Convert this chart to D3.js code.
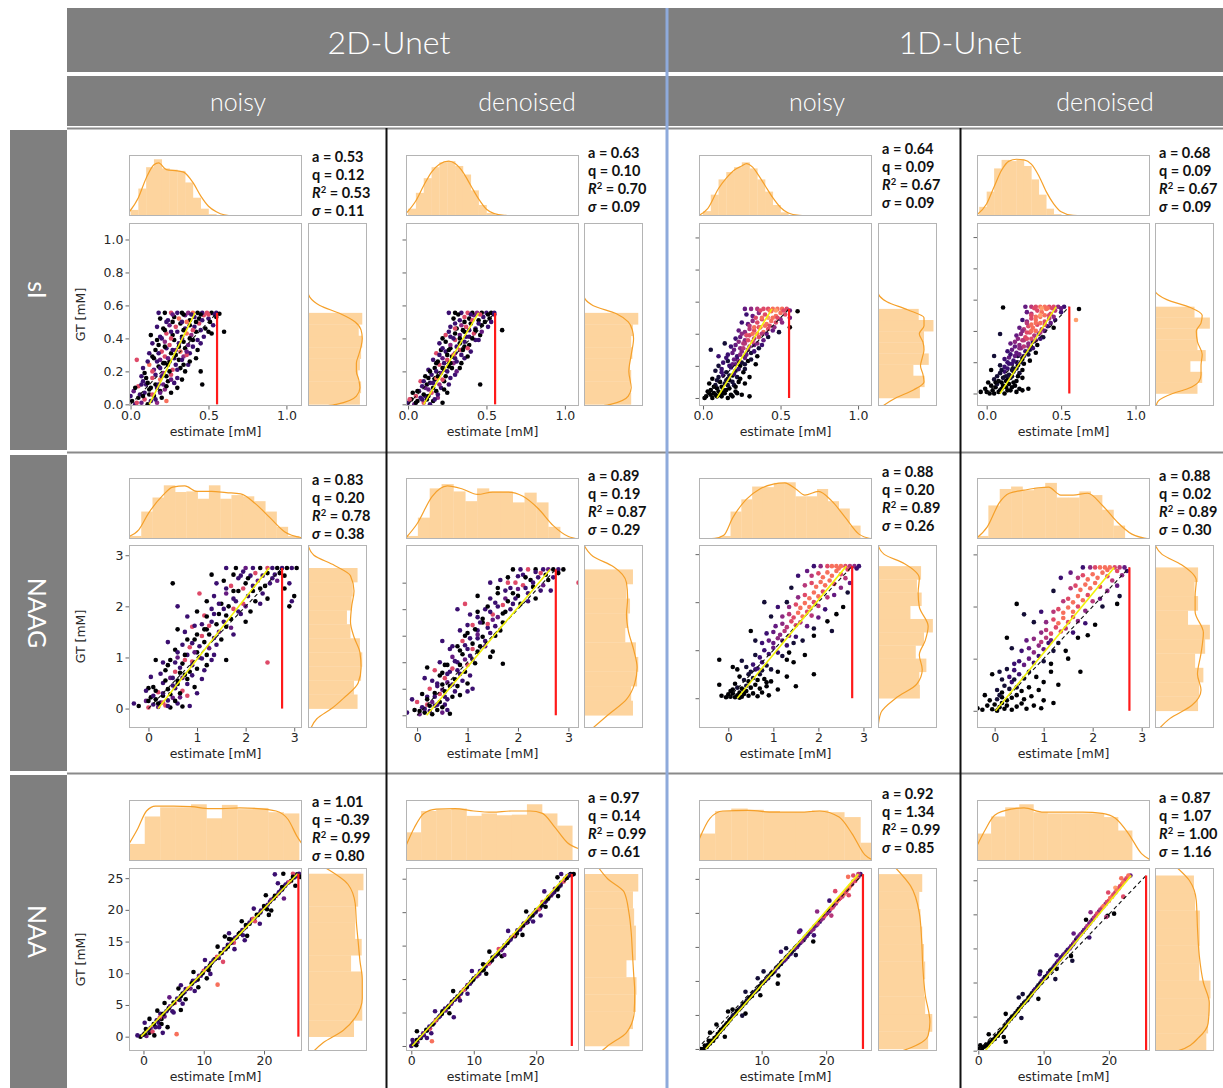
<!DOCTYPE html>
<html><head><meta charset="utf-8">
<script src="https://cdn.jsdelivr.net/npm/d3@7"></script>
<style>body{margin:0;background:#fff}svg{display:block}</style>
</head><body>
<svg id="fig" width="1223" height="1088"></svg>
<script>
// ---------- labels ----------
const metabolites = ["sI", "NAAG", "NAA"];
const networks = ["2D-Unet", "1D-Unet"];
const inputs = ["noisy", "denoised", "noisy", "denoised"];

// ---------- regression statistics (rows: sI, NAAG, NAA; cols: 2D noisy, 2D denoised, 1D noisy, 1D denoised) ----------
const statA = [[0.53, 0.63, 0.64, 0.68], [0.83, 0.89, 0.88, 0.88], [1.01, 0.97, 0.92, 0.87]];
const statQ = [[0.12, 0.10, 0.09, 0.09], [0.20, 0.19, 0.20, 0.02], [-0.39, 0.14, 1.34, 1.07]];
const statR2 = [[0.53, 0.70, 0.67, 0.67], [0.78, 0.87, 0.89, 0.89], [0.99, 0.99, 0.99, 1.00]];
const statSigma = [[0.11, 0.09, 0.09, 0.09], [0.38, 0.29, 0.26, 0.30], [0.80, 0.61, 0.85, 1.16]];
const gtMax = [0.555, 2.75, 25.7];

// ---------- axis domains and ticks ----------
const xDomains = [
  [[-0.01, 1.1], [-0.013, 1.09], [-0.026, 1.09], [-0.065, 1.097]],
  [[-0.4, 3.16], [-0.22, 3.21], [-0.65, 3.19], [-0.36, 3.17]],
  [[-2.4, 26.3], [-0.85, 26.85], [0.3, 27.1], [-0.2, 26.3]]];
const yDomains = [
  [[-0.01, 1.1], [-0.01, 1.1], [-0.05, 1.09], [-0.08, 1.09]],
  [[-0.38, 3.2], [-0.24, 3.21], [-0.62, 3.19], [-0.33, 3.18]],
  [[-2.26, 26.6], [-0.75, 26.6], [-0.3, 26.6], [-0.05, 26.8]]];
const xTicks = [[0, 0.5, 1], [0, 1, 2, 3], [0, 10, 20]];
const yTicks = [
  [[0, 0.2, 0.4, 0.6, 0.8, 1], [0, 0.2, 0.4, 0.6, 0.8, 1], [0, 0.2, 0.4, 0.6, 0.8, 1], [0, 0.2, 0.4, 0.6, 0.8, 1]],
  [[0, 1, 2, 3], [0, 0.5, 1, 1.5, 2, 2.5], [0, 1, 2, 3], [0, 1, 2, 3]],
  [[0, 5, 10, 15, 20, 25], [0, 5, 10, 15, 20, 25], [0, 5, 10, 15, 20, 25], [0, 5, 10, 15, 20, 25]]];

// ---------- marginal histograms of the estimate (top) ----------
const topStart = [[0, 0, 0, -0.05], [-0.38, -0.22, -0.19, -0.36], [-2.35, -0.85, 0.3, -0.2]];
const topWidth = [[0.05, 0.05, 0.05, 0.05], [0.232, 0.235, 0.24, 0.232], [2.56, 2.42, 2.5, 2.16]];
const topHeights = [
  [[0.1, 0.45, 0.8, 0.93, 0.78, 0.76, 0.74, 0.55, 0.3, 0.12, 0.03],
   [0.12, 0.38, 0.62, 0.8, 0.88, 0.9, 0.82, 0.68, 0.42, 0.18, 0.05, 0.01],
   [0.08, 0.35, 0.6, 0.72, 0.8, 0.88, 0.78, 0.6, 0.4, 0.18, 0.06, 0.01],
   [0.15, 0.4, 0.78, 0.92, 0.9, 0.92, 0.82, 0.6, 0.35, 0.12, 0.03, 0.01]],
  [[0.05, 0.45, 0.68, 0.88, 0.77, 0.78, 0.66, 0.88, 0.66, 0.72, 0.7, 0.62, 0.45, 0.2, 0.05],
   [0.05, 0.35, 0.83, 0.9, 0.78, 0.62, 0.83, 0.78, 0.78, 0.6, 0.76, 0.6, 0.2, 0.02],
   [0.05, 0.45, 0.65, 0.86, 0.85, 0.92, 0.93, 0.7, 0.7, 0.82, 0.62, 0.5, 0.22, 0.02],
   [0.05, 0.55, 0.82, 0.86, 0.8, 0.84, 0.92, 0.68, 0.68, 0.78, 0.72, 0.48, 0.22, 0.01]],
  [[0.28, 0.73, 0.88, 0.88, 0.93, 0.7, 0.92, 0.85, 0.87, 0.8, 0.78],
   [0.47, 0.82, 0.84, 0.86, 0.74, 0.78, 0.75, 0.76, 0.93, 0.78, 0.58],
   [0.45, 0.82, 0.86, 0.84, 0.82, 0.8, 0.8, 0.83, 0.8, 0.72, 0.3],
   [0.45, 0.73, 0.88, 0.93, 0.8, 0.78, 0.78, 0.78, 0.78, 0.72, 0.5]]];
// density curves over the estimate: x, height pairs
const topKde = [
  [[-0.01, 0.06, 0.05, 0.3, 0.1, 0.62, 0.15, 0.84, 0.18, 0.87, 0.23, 0.76, 0.3, 0.74, 0.34, 0.72, 0.4, 0.55, 0.45, 0.33, 0.5, 0.16, 0.55, 0.07, 0.6, 0.02, 0.68, 0, 1.1, 0],
   [-0.013, 0.04, 0.05, 0.25, 0.1, 0.5, 0.15, 0.72, 0.2, 0.85, 0.26, 0.9, 0.3, 0.86, 0.35, 0.72, 0.4, 0.5, 0.45, 0.28, 0.5, 0.11, 0.55, 0.04, 0.62, 0.01, 0.7, 0, 1.09, 0],
   [-0.026, 0.01, 0.03, 0.12, 0.1, 0.45, 0.15, 0.62, 0.2, 0.75, 0.25, 0.82, 0.28, 0.86, 0.32, 0.8, 0.35, 0.7, 0.4, 0.5, 0.45, 0.3, 0.5, 0.14, 0.55, 0.05, 0.62, 0.01, 0.7, 0, 1.09, 0],
   [-0.065, 0.02, 0, 0.2, 0.05, 0.48, 0.1, 0.75, 0.15, 0.9, 0.2, 0.93, 0.25, 0.92, 0.3, 0.85, 0.35, 0.66, 0.4, 0.4, 0.45, 0.2, 0.5, 0.07, 0.58, 0.01, 0.7, 0, 1.097, 0]],
  [[-0.4, 0.04, -0.2, 0.15, 0, 0.42, 0.3, 0.72, 0.5, 0.85, 0.75, 0.87, 1.0, 0.78, 1.3, 0.78, 1.6, 0.76, 1.9, 0.74, 2.2, 0.58, 2.5, 0.35, 2.8, 0.12, 3.16, 0.02],
   [-0.22, 0.02, 0, 0.25, 0.3, 0.7, 0.6, 0.87, 0.9, 0.82, 1.2, 0.73, 1.5, 0.77, 1.8, 0.77, 2.1, 0.7, 2.4, 0.5, 2.7, 0.22, 3.0, 0.04, 3.21, 0],
   [-0.65, 0, -0.3, 0.01, -0.1, 0.06, 0.1, 0.35, 0.4, 0.65, 0.7, 0.82, 1.0, 0.9, 1.25, 0.92, 1.5, 0.82, 1.7, 0.72, 2.0, 0.78, 2.3, 0.62, 2.6, 0.35, 2.9, 0.08, 3.19, 0],
   [-0.36, 0.02, -0.15, 0.2, 0.1, 0.6, 0.3, 0.75, 0.6, 0.8, 0.9, 0.84, 1.1, 0.85, 1.35, 0.72, 1.6, 0.72, 1.9, 0.75, 2.2, 0.55, 2.5, 0.28, 2.8, 0.08, 3.17, 0]],
  [[-2.4, 0.28, -1, 0.52, 0.5, 0.82, 2, 0.9, 5, 0.9, 8, 0.89, 11, 0.86, 13, 0.86, 16, 0.87, 19, 0.86, 22, 0.82, 24, 0.68, 25.5, 0.4, 26.3, 0.28],
   [-0.85, 0.25, 0.5, 0.55, 2, 0.78, 4, 0.85, 7, 0.86, 10, 0.82, 13, 0.8, 16, 0.82, 19, 0.82, 21, 0.78, 23, 0.55, 25, 0.3, 26.85, 0.2],
   [0.3, 0.35, 2, 0.7, 4, 0.82, 8, 0.83, 12, 0.8, 16, 0.8, 19, 0.82, 22, 0.72, 24, 0.45, 26, 0.1, 27.1, 0.02],
   [-0.2, 0.25, 1, 0.5, 2.5, 0.75, 5, 0.85, 7, 0.87, 10, 0.8, 13, 0.8, 16, 0.8, 19, 0.78, 21, 0.7, 23, 0.45, 25, 0.12, 26.3, 0.02]]];

// ---------- marginal histograms of the ground truth (right), bins span [0, gtMax] ----------
const sideWidths = [
  [[0.88, 0.9, 0.85, 0.88, 0.9, 0.92, 0.86, 0.92],
   [0.8, 0.78, 0.8, 0.78, 0.82, 0.8, 0.83, 0.92],
   [0.71, 0.79, 0.6, 0.86, 0.78, 0.78, 0.94, 0.69],
   [0.72, 0.8, 0.6, 0.86, 0.72, 0.72, 0.93, 0.67]],
  [[0.84, 0.78, 0.9, 0.92, 0.88, 0.72, 0.66, 0.74, 0.76, 0.84],
   [0.83, 0.8, 0.9, 0.92, 0.88, 0.7, 0.75, 0.78, 0.72, 0.83],
   [0.71, 0.7, 0.82, 0.64, 0.78, 0.93, 0.55, 0.74, 0.66, 0.73],
   [0.73, 0.75, 0.82, 0.68, 0.85, 0.93, 0.56, 0.73, 0.67, 0.73]],
  [[0.78, 0.92, 0.92, 0.92, 0.73, 0.91, 0.8, 0.8, 0.85, 0.94],
   [0.77, 0.83, 0.88, 0.89, 0.72, 0.88, 0.88, 0.85, 0.83, 0.92],
   [0.85, 0.92, 0.8, 0.78, 0.8, 0.78, 0.75, 0.72, 0.7, 0.75],
   [0.87, 0.9, 0.92, 0.94, 0.75, 0.75, 0.76, 0.76, 0.68, 0.66]]];
// density curves over the ground truth: y, width pairs
const sideKde = [
  [[-0.01, 0.3, 0, 0.48, 0.05, 0.82, 0.1, 0.88, 0.15, 0.86, 0.2, 0.82, 0.25, 0.82, 0.3, 0.86, 0.35, 0.9, 0.4, 0.92, 0.45, 0.9, 0.5, 0.8, 0.55, 0.55, 0.6, 0.2, 0.65, 0.03, 0.68, 0, 1.1, 0],
   [-0.01, 0.3, 0, 0.45, 0.05, 0.75, 0.1, 0.8, 0.2, 0.76, 0.3, 0.8, 0.4, 0.84, 0.45, 0.82, 0.5, 0.75, 0.55, 0.55, 0.6, 0.15, 0.66, 0, 1.1, 0],
   [-0.05, 0.08, 0, 0.3, 0.05, 0.6, 0.1, 0.78, 0.15, 0.76, 0.2, 0.72, 0.25, 0.75, 0.3, 0.78, 0.35, 0.76, 0.4, 0.7, 0.45, 0.78, 0.5, 0.78, 0.55, 0.5, 0.6, 0.15, 0.66, 0, 1.09, 0],
   [-0.08, 0.02, -0.05, 0.05, 0, 0.3, 0.03, 0.55, 0.08, 0.75, 0.12, 0.78, 0.18, 0.78, 0.25, 0.8, 0.33, 0.72, 0.4, 0.7, 0.45, 0.78, 0.5, 0.8, 0.55, 0.6, 0.6, 0.2, 0.66, 0, 1.09, 0]],
  [[-0.38, 0.05, -0.2, 0.15, 0, 0.4, 0.2, 0.6, 0.5, 0.85, 0.8, 0.9, 1.1, 0.88, 1.4, 0.78, 1.7, 0.72, 2.0, 0.74, 2.3, 0.78, 2.6, 0.72, 2.8, 0.45, 3.0, 0.1, 3.2, 0],
   [-0.24, 0.15, 0, 0.4, 0.3, 0.72, 0.6, 0.86, 0.9, 0.9, 1.2, 0.85, 1.6, 0.75, 1.9, 0.72, 2.2, 0.74, 2.5, 0.72, 2.8, 0.5, 3.0, 0.15, 3.21, 0],
   [-0.62, 0, -0.3, 0.05, 0, 0.3, 0.3, 0.66, 0.6, 0.75, 0.9, 0.7, 1.2, 0.8, 1.5, 0.85, 1.9, 0.7, 2.2, 0.68, 2.5, 0.7, 2.8, 0.45, 3.0, 0.1, 3.19, 0],
   [-0.33, 0.08, -0.15, 0.25, 0.1, 0.62, 0.4, 0.78, 0.7, 0.72, 1.1, 0.78, 1.5, 0.82, 1.9, 0.68, 2.2, 0.68, 2.5, 0.7, 2.8, 0.45, 3.0, 0.12, 3.18, 0]],
  [[-2.26, 0.1, -1, 0.25, 1, 0.6, 3, 0.8, 6, 0.92, 9, 0.92, 12, 0.88, 15, 0.85, 18, 0.82, 21, 0.8, 24, 0.68, 26.6, 0.3],
   [-0.75, 0.3, 0, 0.4, 2, 0.72, 5, 0.85, 8, 0.86, 11, 0.84, 14, 0.82, 17, 0.8, 20, 0.76, 23, 0.68, 25, 0.4, 26.6, 0.25],
   [-0.3, 0.4, 0, 0.5, 2, 0.85, 4, 0.88, 8, 0.8, 12, 0.76, 16, 0.74, 20, 0.7, 24, 0.55, 26.6, 0.3],
   [-0.05, 0.38, 0, 0.4, 2, 0.75, 4, 0.9, 7, 0.92, 10, 0.82, 14, 0.75, 18, 0.72, 22, 0.7, 25, 0.58, 26.8, 0.38]]];

// ---------- scatter samples: estimate, ground truth, colour level (0-9) ----------
const sI_2D_noisy = [
.01,.02,0, .03,0,2, .05,.04,0, .07,.01,3, .09,.03,6, .11,0,0, .13,.02,2, .15,.05,0, .17,.01,4, .2,.04,0, .23,.02,7, 0,.05,2, .06,.06,2, .12,.06,0,
.02,.08,3, .09,.07,2, .12,.09,0, .14,.06,6, .17,.1,2, .19,.08,0, .22,.09,4, .26,.07,0, .3,.1,0, .05,.11,6, .1,.12,2,
.08,.14,2, .11,.13,0, .16,.12,0, .19,.15,7, .21,.12,3, .24,.14,0, .28,.13,2, .33,.15,0, .07,.17,2, .14,.16,6, .16,.18,2,
.21,.19,4, .23,.17,0, .26,.18,6, .3,.16,2, .35,.2,0, .45,.2,0, .08,.22,2, .12,.24,7, .15,.21,3, .18,.23,0, .24,.24,0, .27,.21,6, .29,.24,2, .32,.22,0, .37,.24,2,
.04,.27,6, .11,.26,2, .15,.28,0, .19,.27,3, .22,.29,6, .25,.26,0, .28,.28,2, .31,.27,0, .34,.29,4, .38,.26,0, .42,.28,0,
.12,.31,2, .16,.33,0, .2,.32,6, .23,.34,2, .26,.31,0, .29,.33,3, .32,.32,7, .35,.34,0, .38,.31,2, .43,.33,0,
.14,.37,2, .18,.36,0, .22,.38,4, .25,.36,6, .28,.39,0, .31,.37,2, .34,.38,0, .37,.36,3, .4,.39,0, .45,.37,2,
.13,.42,0, .19,.41,2, .23,.43,6, .27,.42,0, .3,.44,2, .33,.41,0, .36,.43,7, .39,.42,4, .42,.44,0, .47,.41,2, .52,.43,0, .46,.12,0,
.17,.47,2, .21,.46,0, .25,.48,3, .29,.47,6, .32,.49,0, .35,.46,2, .38,.48,0, .41,.47,2, .44,.49,6, .48,.46,0, .53,.48,2,
.19,.52,0, .24,.51,2, .28,.53,0, .31,.52,7, .35,.54,3, .38,.51,0, .41,.53,2, .44,.52,0, .47,.54,6, .5,.52,2, .55,.53,0, .6,.44,0,
.18,.555,2, .22,.555,0, .26,.555,6, .3,.555,2, .33,.555,0, .37,.555,4, .4,.555,7, .43,.555,0, .46,.555,2, .49,.555,6, .52,.555,0, .55,.555,2,
.04,.01,6, .08,.05,0, .16,.03,2, .19,.07,3, .03,.1,0, .07,.12,2, .13,.1,0, .18,.12,2, .23,.11,0, .26,.15,3, .1,.16,0, .2,.17,2, .25,.2,0, .14,.2,6, .09,.19,0,
.19,.22,2, .22,.25,0, .3,.21,2, .34,.24,0, .17,.26,2, .21,.25,0, .24,.28,3, .29,.3,0, .33,.27,2, .36,.3,6, .14,.29,0, .18,.31,2, .22,.35,0, .27,.33,2, .31,.35,0,
.36,.32,3, .4,.35,2, .17,.39,0, .2,.4,2, .26,.4,6, .33,.4,2, .38,.4,0, .43,.39,2, .22,.45,0, .26,.44,2, .34,.45,0, .4,.45,6, .45,.45,2, .5,.44,0, .23,.5,2,
.27,.5,0, .33,.5,2, .36,.5,7, .42,.5,0, .46,.51,2, .51,.5,0, .27,.545,3, .34,.545,0, .39,.545,2, .45,.545,0, .5,.545,6, .54,.545,2, .57,.55,0];
const sI_2D_denoised = [
0,.01,2, .02,.03,0, .04,0,3, .06,.02,0, .08,.04,2, .1,.01,6, .12,.03,0, .14,0,2, .16,.02,0, .19,.04,4, .22,.01,0, .05,.05,6, .11,.05,2,
.03,.07,0, .07,.08,2, .1,.06,0, .13,.09,3, .15,.07,6, .18,.08,0, .21,.1,2, .25,.07,0, .09,.11,2, .12,.12,0,
.08,.14,6, .14,.13,2, .17,.15,0, .2,.12,4, .23,.14,0, .27,.16,2, .11,.17,0, .15,.18,2, .18,.16,7, .21,.19,3, .24,.17,0, .3,.18,2, .46,.12,0,
.13,.21,2, .17,.22,0, .2,.24,6, .23,.21,2, .26,.23,0, .29,.25,4, .33,.22,0, .16,.27,2, .19,.26,0, .22,.28,3, .25,.27,6, .28,.29,0, .31,.26,2, .36,.28,2,
.18,.31,6, .21,.33,0, .24,.32,2, .27,.34,0, .3,.31,3, .33,.33,6, .36,.35,0, .4,.32,2, .2,.37,2, .24,.38,0, .27,.36,4, .3,.39,6, .33,.37,0, .36,.38,2, .39,.36,0, .43,.39,2,
.24,.42,6, .27,.41,2, .3,.43,0, .33,.42,3, .36,.44,0, .39,.41,2, .42,.43,6, .46,.42,0, .27,.47,2, .31,.46,0, .34,.48,4, .37,.47,6, .4,.49,0, .43,.46,2, .47,.48,0, .51,.47,2,
.29,.52,0, .33,.51,2, .36,.53,6, .39,.52,0, .42,.54,3, .45,.51,0, .48,.53,2, .52,.52,0, .6,.45,0,
.26,.555,2, .3,.555,0, .34,.555,2, .38,.555,6, .41,.555,0, .44,.555,4, .47,.555,0, .5,.555,2, .53,.555,0, .55,.555,2,
.01,.03,6, .05,.01,0, .09,.03,2, .13,.05,0, .17,.03,2, .06,.08,0, .11,.1,3, .16,.1,0, .19,.06,2, .23,.09,0, .1,.14,2, .13,.16,0, .16,.13,2, .19,.17,0, .22,.15,6,
.26,.12,2, .14,.2,0, .18,.2,2, .22,.22,0, .25,.2,2, .28,.22,0, .31,.2,3, .18,.25,0, .23,.25,2, .27,.25,0, .3,.28,2, .34,.25,0, .2,.3,2, .25,.3,0, .29,.3,6,
.34,.3,2, .38,.29,0, .22,.34,2, .26,.33,0, .31,.35,2, .35,.33,0, .38,.34,6, .22,.4,0, .29,.4,2, .33,.4,0, .37,.41,2, .41,.4,0, .45,.39,2, .26,.44,2, .3,.46,6,
.35,.45,0, .39,.45,2, .43,.45,0, .47,.44,3, .3,.49,2, .36,.5,0, .41,.51,6, .45,.49,2, .49,.5,0, .53,.5,2, .32,.545,0, .4,.545,2, .46,.545,6, .51,.545,0, .55,.545,2];
const sI_1D_noisy = [
.02,.01,0, .04,.03,0, .06,0,0, .08,.02,0, .1,.04,0, .12,.01,0, .14,.03,0, .16,0,0, .18,.02,0, .21,.04,0, .05,.05,0, .09,.06,0, .13,.05,1, .17,.06,0, .03,.04,0, .11,.02,0, .25,.02,0, .3,.01,0, .07,.03,0,
.04,.09,0, .08,.08,1, .11,.1,0, .14,.09,1, .17,.11,0, .2,.08,1, .23,.1,0, .27,.09,0, .1,.13,1, .13,.14,2, .16,.12,1, .19,.14,0, .22,.13,1, .06,.12,0, .3,.13,0,
.08,.17,1, .12,.18,2, .15,.16,1, .18,.19,2, .21,.17,1, .24,.2,0, .27,.18,1, .13,.22,2, .16,.23,1, .19,.21,3, .22,.24,2, .25,.22,1, .29,.23,0, .34,.21,0, .05,.3,1, .1,.26,2,
.16,.27,2, .19,.28,3, .22,.26,2, .25,.29,4, .28,.27,3, .31,.28,1, .35,.26,0, .18,.32,2, .21,.33,3, .24,.31,4, .27,.34,5, .3,.32,4, .33,.33,3, .36,.31,1, .14,.34,1,
.21,.37,2, .24,.38,3, .27,.36,4, .3,.39,6, .33,.37,5, .36,.38,6, .39,.36,3, .42,.38,1, .23,.42,3, .27,.41,4, .3,.43,5, .33,.42,6, .36,.44,6, .39,.41,7, .42,.43,6, .45,.42,3, .49,.41,1,
.25,.47,2, .29,.46,3, .32,.48,4, .35,.47,6, .38,.49,6, .41,.46,7, .44,.48,7, .47,.47,6, .5,.49,4, .28,.52,2, .32,.51,3, .36,.53,4, .4,.52,6, .44,.54,7, .47,.51,7, .5,.53,7, .53,.52,6, .56,.5,3,
.27,.555,3, .31,.555,4, .35,.555,5, .39,.555,6, .42,.555,6, .45,.555,7, .48,.555,7, .51,.555,7, .54,.555,6, .61,.54,0, .56,.44,0,
.01,0,0, .05,.02,0, .09,.01,0, .13,.03,0, .15,.05,0, .19,.01,0, .22,.03,0, .07,.07,0, .12,.07,0, .16,.08,1, .21,.07,0, .09,.11,1, .15,.11,1, .19,.1,1, .24,.12,0,
.12,.16,2, .17,.14,1, .2,.15,2, .26,.16,0, .1,.2,1, .17,.2,2, .21,.21,3, .23,.18,2, .27,.21,1, .15,.25,2, .2,.24,3, .23,.23,4, .27,.25,3, .31,.24,1, .2,.3,3,
.24,.27,4, .26,.31,5, .29,.3,4, .33,.29,2, .23,.35,4, .26,.34,5, .29,.36,6, .32,.35,6, .35,.34,4, .38,.33,2, .25,.4,4, .28,.39,6, .32,.4,7, .35,.4,7, .38,.4,5,
.41,.4,3, .3,.45,5, .33,.44,7, .37,.44,7, .4,.45,7, .43,.45,6, .46,.44,4, .34,.5,6, .38,.5,7, .42,.5,8, .45,.5,7, .48,.5,6, .51,.47,4, .37,.545,6, .43,.545,7,
.47,.545,8, .52,.545,6, .56,.545,3];
const sI_1D_denoised = [
-.04,.01,0, -.01,.03,0, .02,0,0, .04,.02,0, .06,.04,0, .08,.01,0, .1,.03,0, .12,0,0, .14,.02,0, .17,.04,0, .2,.01,0, .24,.02,0, .03,.05,0, .07,.06,1, .11,.05,0, .15,.06,0, .19,.05,0, .01,.07,0, .28,.03,0,
.05,.09,1, .08,.08,0, .11,.1,1, .14,.09,0, .17,.11,1, .2,.08,0, .24,.1,0, .09,.13,1, .12,.14,2, .15,.12,1, .18,.14,0, .22,.13,1, .03,.15,0,
.09,.18,1, .12,.17,2, .15,.19,2, .18,.16,1, .21,.18,0, .25,.19,0, .12,.22,2, .15,.23,3, .18,.21,2, .21,.24,1, .24,.22,0, .29,.21,0, .05,.24,1,
.14,.27,2, .17,.28,3, .2,.26,3, .23,.29,4, .26,.27,2, .29,.28,1, .33,.26,0, .16,.32,3, .19,.33,4, .22,.31,4, .25,.34,5, .28,.32,4, .31,.33,2, .34,.31,0, .09,.38,1,
.2,.37,3, .23,.38,4, .26,.36,6, .29,.39,6, .32,.37,5, .35,.38,3, .38,.36,1, .22,.42,3, .25,.41,5, .28,.43,6, .31,.42,7, .34,.44,6, .37,.41,5, .41,.43,2, .45,.42,0,
.24,.47,2, .27,.46,4, .3,.48,6, .33,.47,7, .36,.49,7, .39,.46,6, .42,.48,5, .46,.47,2, .27,.52,3, .3,.51,5, .34,.53,6, .37,.52,7, .4,.54,7, .43,.51,6, .46,.53,5, .5,.52,2, .6,.47,8,
.26,.555,3, .3,.555,5, .33,.555,6, .36,.555,7, .39,.555,7, .42,.555,6, .45,.555,6, .48,.555,4, .52,.555,2, .62,.54,0, .11,.55,0,
0,.01,0, .05,0,0, .09,.02,0, .13,.04,0, .16,.02,0, .22,.03,0, .06,.07,0, .1,.07,0, .13,.08,0, .18,.07,0, .07,.11,1, .13,.11,1, .16,.1,1, .21,.11,0, .1,.15,1,
.14,.16,2, .17,.15,1, .2,.16,1, .24,.15,0, .14,.2,2, .17,.19,2, .2,.2,2, .23,.2,1, .16,.25,2, .19,.24,3, .22,.25,3, .25,.24,2, .28,.25,1, .19,.3,3, .22,.29,4,
.25,.3,5, .28,.3,4, .31,.29,2, .21,.35,4, .24,.34,5, .27,.35,6, .3,.35,6, .33,.34,4, .36,.35,2, .24,.4,4, .27,.39,6, .3,.4,7, .33,.4,7, .36,.39,5, .39,.4,3,
.27,.45,5, .3,.44,7, .33,.45,7, .36,.45,7, .39,.44,6, .43,.45,3, .3,.5,6, .33,.49,7, .36,.5,8, .39,.5,7, .42,.5,6, .45,.49,4, .32,.545,6, .37,.545,8, .41,.545,7,
.44,.545,6, .5,.545,3];

const NAAG_2D_noisy = [
-.3,.1,2, -.2,.05,0, -.05,.15,3, 0,.02,6, .05,.22,0, .1,.08,2, .15,.18,0, .2,.03,3, .25,.12,2, .3,.25,0, .35,.06,6, .4,.16,2, .45,.02,0, .5,.21,3, .6,.1,2, .7,.04,0, .85,.05,2, .05,.62,2, 0,.4,0,
-.05,.35,2, .1,.42,0, .2,.32,6, .3,.5,2, .4,.38,0, .45,.6,3, .5,.45,2, .6,.55,0, .7,.35,6, .8,.48,2, .95,.42,0, .25,.68,2, .35,.75,0, .55,.72,6, .65,.8,2, .75,.66,0, 1.1,.58,2, .15,.95,0, 1.0,.3,2, .85,.72,0,
.3,.9,2, .45,.95,0, .6,1.0,3, .7,.88,0, .8,1.05,2, .9,.92,6, 1.0,1.1,0, 1.1,.98,2, 1.2,.85,0, 1.35,1.05,2, .55,1.15,0, .7,1.25,2, .85,1.2,6, .95,1.35,0, 1.05,1.22,2, 1.15,1.3,0, 1.25,1.18,3, 1.4,1.25,2, 1.6,.95,0, 2.45,.9,6, .4,1.3,2,
.6,1.55,0, .75,1.5,2, .9,1.6,6, 1.0,1.45,0, 1.1,1.65,2, 1.2,1.55,0, 1.3,1.7,2, 1.45,1.5,3, 1.6,1.6,0, 1.75,1.45,2, .8,1.8,2, 1.0,1.9,0, 1.15,1.82,6, 1.3,1.95,2, 1.45,1.85,0, 1.55,1.95,2, 1.7,1.75,0, 1.85,1.9,2, 2.0,1.7,0, .6,2.0,2, .5,2.45,0, 1.05,2.25,6,
1.2,2.1,0, 1.35,2.2,2, 1.5,2.05,0, 1.6,2.25,3, 1.75,2.15,2, 1.85,2.3,0, 1.95,2.05,6, 2.05,2.2,2, 2.2,2.1,0, 2.35,2.25,2, 2.9,2.0,0, 2.95,2.1,2, 1.4,2.45,2, 1.55,2.5,0, 1.7,2.4,6, 1.85,2.55,2, 2.0,2.45,0, 2.1,2.6,2, 2.25,2.5,3, 2.4,2.4,0, 2.55,2.55,2, 2.8,2.35,0, 1.3,2.62,0,
1.6,2.75,2, 1.8,2.75,0, 2.0,2.75,3, 2.15,2.75,2, 2.3,2.75,0, 2.45,2.75,6, 2.55,2.75,2, 2.65,2.75,0, 2.75,2.75,2, 2.85,2.75,0, 2.95,2.75,2, 3.05,2.75,0, 1.95,2.68,2, 2.7,2.65,0,
0,.15,0, .1,.25,2, .2,.1,0, .3,.12,6, .4,.05,2, .55,.15,0, .65,.22,3, .15,.35,0, .3,.3,2, .45,.28,0, .55,.4,2, .65,.3,0, .8,.25,6, .35,.55,0, .5,.6,2,
.6,.48,0, .7,.6,3, .8,.58,0, .9,.65,2, .4,.85,0, .55,.9,2, .65,.7,0, .75,.95,6, .9,.85,2, 1.0,.78,0, 1.15,.75,2, .6,1.1,2, .75,1.05,0, .95,1.1,3, 1.05,1.0,2,
1.2,1.05,0, 1.3,.95,2, .8,1.35,0, .9,1.28,2, 1.1,1.42,6, 1.25,1.45,0, 1.35,1.38,2, 1.5,1.35,0, .95,1.62,2, 1.15,1.55,0, 1.25,1.62,6, 1.4,1.65,0, 1.55,1.7,2, 1.7,1.58,3, 1.2,1.8,0,
1.35,1.85,2, 1.6,1.82,0, 1.75,1.95,6, 1.9,1.85,2, 2.1,1.9,0, 1.45,2.05,2, 1.65,2.0,0, 1.8,2.1,2, 2.0,2.0,3, 2.15,2.3,0, 2.3,2.05,2, 2.45,2.15,0, 1.6,2.35,2, 1.75,2.3,0, 1.95,2.35,6,
2.15,2.4,2, 2.3,2.35,0, 2.5,2.45,2, 2.65,2.5,3, 1.75,2.62,0, 1.9,2.6,2, 2.05,2.55,0, 2.2,2.65,6, 2.35,2.6,2, 2.45,2.65,0, 2.6,2.62,2, 2.8,2.6,0, 2.9,2.45,2, 3.0,2.2,0];
const NAAG_2D_denoised = [
-.2,.05,2, -.05,.1,0, .05,.02,3, .1,.15,2, .15,.05,0, .2,.2,6, .25,.08,2, .3,.02,0, .35,.18,2, .4,.1,0, .5,.05,3, .55,.2,2, .65,.03,0, 0,.25,6, .45,.25,0, -.1,.3,2,
.1,.4,0, .2,.35,2, .25,.5,6, .35,.42,0, .4,.6,2, .5,.48,3, .55,.35,2, .65,.55,0, .75,.45,2, .85,.38,0, .3,.65,2, .45,.75,0, .55,.7,6, .65,.82,2, .75,.68,0, .85,.78,2, 1.0,.6,0, .15,.7,2, .2,.9,0, .35,.85,6, 1.1,.5,2, 1.0,.45,2,
.45,1.0,2, .6,.95,0, .7,1.1,3, .8,1.0,2, .9,1.15,0, 1.0,.95,6, 1.1,1.05,2, 1.2,1.2,0, .65,1.25,2, .8,1.3,0, .9,1.4,6, 1.0,1.25,2, 1.1,1.35,0, 1.2,1.45,2, 1.35,1.3,3, 1.5,1.2,0, .5,1.4,2, 1.45,1.1,0, 1.7,.97,0,
.85,1.6,2, 1.0,1.55,0, 1.1,1.7,6, 1.2,1.6,2, 1.3,1.75,0, 1.4,1.65,2, 1.5,1.8,3, 1.65,1.6,0, 1.05,1.9,2, 1.2,1.95,0, 1.35,2.0,2, 1.5,1.9,6, 1.6,2.05,2, 1.75,1.95,0, 1.9,2.1,2, .95,2.1,6, .8,2.0,2, 1.2,2.25,0,
1.45,2.2,2, 1.6,2.3,0, 1.75,2.2,3, 1.85,2.4,2, 2.0,2.25,0, 2.1,2.45,6, 2.2,2.3,2, 2.35,2.2,0, 1.65,2.55,2, 1.8,2.6,0, 1.95,2.5,6, 2.1,2.65,2, 2.25,2.55,0, 2.4,2.6,2, 2.5,2.45,3, 2.6,2.55,0, 1.45,2.5,2, 2.65,2.35,2,
1.9,2.75,0, 2.05,2.75,2, 2.2,2.75,6, 2.35,2.75,0, 2.5,2.75,2, 2.6,2.75,3, 2.7,2.75,0, 2.8,2.75,2, 2.9,2.75,0, 2.35,2.7,2, 3.2,2.5,6,
.05,.08,0, .15,.12,2, .25,.18,0, .3,.25,3, .4,.2,2, .5,.15,0, .6,.1,2, .2,.3,0, .35,.35,2, .45,.4,6, .55,.45,0, .6,.3,2, .7,.35,0, .4,.55,2, .5,.58,0,
.6,.62,3, .7,.58,2, .8,.55,0, .9,.65,2, .5,.8,0, .6,.78,2, .7,.88,6, .8,.85,2, .95,.82,0, 1.05,.75,2, .55,.95,0, .75,1.02,2, .85,.95,0, .95,1.05,3, 1.05,1.12,2,
1.15,.98,0, .7,1.3,2, .85,1.22,0, .95,1.32,2, 1.1,1.25,6, 1.25,1.3,0, 1.35,1.4,2, .95,1.5,0, 1.05,1.45,2, 1.2,1.52,3, 1.3,1.48,0, 1.45,1.55,2, 1.55,1.5,0, 1.0,1.7,2, 1.15,1.62,0,
1.25,1.75,2, 1.4,1.72,6, 1.55,1.68,2, 1.7,1.75,0, 1.2,1.85,2, 1.3,1.82,0, 1.45,1.95,2, 1.6,1.85,3, 1.7,1.92,0, 1.85,2.0,2, 1.4,2.05,0, 1.55,2.12,2, 1.7,2.08,6, 1.8,2.15,0, 1.95,2.2,2,
2.05,2.1,0, 2.2,2.15,2, 1.6,2.4,0, 1.75,2.35,2, 1.9,2.3,0, 2.0,2.38,3, 2.15,2.4,2, 2.3,2.42,0, 2.45,2.35,2, 1.8,2.5,6, 2.0,2.62,2, 2.15,2.6,0, 2.3,2.5,2, 2.45,2.68,6, 2.55,2.65,0,
2.7,2.6,2, 2.8,2.68,0];
const NAAG_1D_noisy = [
-.15,.05,0, -.05,.02,0, 0,.08,0, .05,.03,0, .1,.1,0, .15,.02,0, .2,.06,0, .25,.12,0, .3,.03,0, .35,.09,0, .4,.15,0, .45,.05,0, .55,.1,0, .65,.04,0, .75,.12,0,
.9,.06,0, .1,.18,0, .2,.22,1, .3,.2,0, .4,.26,1, .5,.22,0, .6,.28,0, .7,.2,0, .85,.25,0, 1.1,.18,0, -.2,.28,0, .15,.3,0, .05,.15,0, .25,.01,0, .35,.17,0,
.25,.45,0, .35,.38,1, .45,.5,1, .55,.42,1, .6,.6,2, .7,.5,1, .8,.4,0, .95,.35,0, .4,.65,1, .55,.7,2, .65,.62,2, .75,.75,2, .85,.68,1, .95,.6,1, 1.1,.55,0,
1.3,.45,0, .3,.78,1, .5,.55,1, .65,.38,0, .2,.6,0, -.2,.8,0, .1,.65,0, 1.5,.25,0, 1.3,.8,0, .85,.33,0, .75,.58,1, .45,.35,0,
.6,.9,1, .7,.85,2, .8,1.0,2, .9,.92,2, 1.0,1.05,3, 1.1,.95,2, 1.2,.88,1, 1.35,.95,0, .75,1.15,2, .9,1.2,3, 1.0,1.15,3, 1.1,1.25,4, 1.2,1.2,3, 1.3,1.1,2, 1.45,1.15,1,
.85,1.35,2, 1.0,1.38,3, 1.15,1.32,4, 1.25,1.4,5, 1.35,1.3,4, 1.5,1.28,2, 1.65,1.2,1, .6,1.2,1, .5,1.4,0, 1.7,.9,0, 1.9,.5,0, 1.45,.75,0,
1.05,1.5,3, 1.2,1.55,4, 1.3,1.48,5, 1.4,1.6,6, 1.5,1.52,6, 1.6,1.58,5, 1.75,1.5,3, 1.9,1.45,1, 1.2,1.7,4, 1.35,1.75,5, 1.45,1.68,6, 1.55,1.78,7, 1.65,1.7,7, 1.75,1.8,6, 1.85,1.72,5,
2.0,1.68,3, 1.35,1.9,4, 1.5,1.95,6, 1.6,1.88,7, 1.7,1.98,7, 1.8,1.9,7, 1.9,2.0,6, 2.0,1.92,5, 2.15,1.85,2, .95,1.7,1, 1.1,1.9,2, .8,2.0,1, 2.2,1.6,0, 2.4,1.75,0, 1.9,1.3,0, 2.3,1.4,1,
1.55,2.1,4, 1.7,2.15,6, 1.8,2.08,7, 1.9,2.2,7, 2.0,2.12,7, 2.1,2.22,6, 2.2,2.1,5, 2.35,2.15,3, 1.7,2.35,5, 1.85,2.4,6, 1.95,2.32,7, 2.05,2.42,7, 2.15,2.35,7, 2.25,2.45,7, 2.35,2.38,6,
2.5,2.3,4, 1.85,2.55,5, 2.0,2.6,6, 2.1,2.52,7, 2.2,2.62,7, 2.3,2.55,7, 2.4,2.65,7, 2.5,2.58,6, 2.6,2.5,5, 2.7,2.4,3, 1.4,2.3,1, 1.55,2.55,2, 1.75,2.65,3, 2.65,2.2,1, 2.55,1.9,0, 1.3,2.0,1,
1.9,2.75,2, 2.05,2.75,4, 2.2,2.75,6, 2.3,2.75,7, 2.4,2.75,7, 2.5,2.75,7, 2.6,2.75,6, 2.7,2.75,5, 2.8,2.75,4, 2.9,2.75,2, 2.45,2.7,7, 2.65,2.68,6, 2.85,2.7,2];
const NAAG_1D_denoised = [
-.35,.05,0, -.25,.02,0, -.15,.1,0, -.05,.03,0, 0,.12,0, .05,0,0, .1,.07,0, .15,.15,0, .2,.04,0, .25,.1,0, .35,.02,0, .45,.08,0, .55,.14,0, .65,.04,0, .8,.1,0,
.95,.05,0, -.1,.2,0, .05,.22,1, .15,.26,0, .25,.2,0, .35,.25,0, .45,.3,0, .6,.22,0, .75,.28,0, 1.0,.2,0, 1.2,.15,0, -.2,.3,0, .1,.3,1,
.05,.4,1, .15,.35,0, .2,.48,1, .3,.42,1, .35,.55,2, .45,.45,1, .55,.38,0, .7,.45,0, .15,.6,1, .3,.65,2, .4,.6,1, .5,.7,2, .6,.62,1, .7,.75,1, .85,.65,0,
1.0,.55,0, -.05,.7,0, .1,.75,1, .25,.8,1, 1.3,.5,0, 1.15,.75,0, .9,.4,0, .4,.78,2,
.4,.9,2, .5,.95,2, .6,.88,3, .7,1.0,3, .8,.92,2, .9,1.05,2, 1.0,.95,1, 1.15,.9,0, .55,1.15,2, .7,1.2,3, .8,1.12,4, .9,1.25,4, 1.0,1.18,3, 1.1,1.3,2, 1.2,1.15,1,
.65,1.35,3, .8,1.38,4, .95,1.32,5, 1.05,1.4,5, 1.15,1.35,3, 1.3,1.3,1, .35,1.2,1, .25,1.4,0, 1.5,1.0,0, 1.75,.75,0, 1.45,1.15,0, 1.7,1.4,0,
.95,1.5,4, 1.05,1.55,5, 1.15,1.48,6, 1.25,1.6,6, 1.35,1.52,6, 1.45,1.58,5, 1.6,1.5,2, 1.05,1.7,4, 1.2,1.75,6, 1.3,1.68,7, 1.4,1.78,7, 1.5,1.7,6, 1.6,1.8,6, 1.7,1.72,4, 1.85,1.68,2,
1.2,1.9,5, 1.3,1.95,6, 1.4,1.88,7, 1.5,1.98,7, 1.6,1.9,7, 1.7,2.0,6, 1.85,1.92,4, .8,1.7,1, .95,1.9,2, .6,1.85,1, .45,2.05,0, 2.05,1.65,0, 1.9,1.45,0,
1.4,2.1,5, 1.5,2.15,6, 1.6,2.08,7, 1.7,2.2,7, 1.8,2.12,7, 1.9,2.22,6, 2.0,2.1,5, 2.15,2.15,3, 1.55,2.35,5, 1.65,2.4,6, 1.75,2.32,7, 1.85,2.42,7, 1.95,2.35,7, 2.05,2.45,7, 2.15,2.38,6,
2.3,2.3,4, 1.7,2.55,5, 1.8,2.6,6, 1.9,2.52,7, 2.0,2.62,7, 2.1,2.55,7, 2.2,2.65,7, 2.3,2.58,6, 2.4,2.5,5, 2.5,2.4,3, 1.2,2.3,1, 1.35,2.55,2, 1.55,2.65,3, 2.55,2.2,1, 2.2,2.0,1,
2.6,2.6,4, 2.5,2.05,0,
1.8,2.75,2, 1.95,2.75,4, 2.05,2.75,6, 2.15,2.75,7, 2.25,2.75,7, 2.35,2.75,7, 2.45,2.75,6, 2.55,2.75,5, 2.65,2.75,3, 2.3,2.7,7, 2.5,2.68,6, 2.7,2.68,2];

const NAA_2D_noisy = [
-.5,0,0, 0,.3,2, .5,.1,3, 1,.6,0, -1,.2,2, 1.5,.8,6, 2,1.5,2, .4,1.2,0, 2.5,2.2,2, 3,2.8,0, 3.5,3.2,3, 2.8,3.6,2, 4.2,4.5,0, 4.8,4,2, 5.2,5.3,6, 6,5.8,2, 5.5,.4,7, 6.5,6.8,0, 7,7.5,2, 6.2,4.2,0,
7.8,7.6,3, 8.2,8.8,2, 9,9,0, 9.5,9.6,2, 10,10.4,6, 10.8,10.5,0, 11.2,11.6,2, 11.8,12.2,0, 12.3,8.2,7, 12.5,12.4,2, 13,13.2,3, 13.6,13.8,0, 14,14.5,2, 14.6,15.3,0, 15,14.8,6, 15.5,15.7,2, 16,16.4,0, 16.5,16,2, 17,17.3,3, 17.6,17.8,0,
18,18.5,2, 18.5,18.2,6, 19,19.2,0, 19.5,19.9,2, 20,20.3,3, 20.5,20.1,0, 21,21.3,2, 21.6,21.8,0, 22,22.2,6, 22.5,22.8,2, 23,23.2,0, 23.5,23.8,2, 24,24.3,3, 24.5,24.6,0, 25,25.1,2, 25.5,25.6,0, 25.8,25.7,2, 24.8,25.7,6, 23.2,25.7,0, 21.8,25.6,2,
26,25.2,0, 4,1.5,0, 3.2,.6,2, 1.8,.2,0, 13.5,15.8,0, 16.8,15.2,2, 20.8,19.2,0, 8.5,7.2,2, 10.5,9.2,0,
.2,.5,0, .8,1,2, 1.2,1.4,3, 1.7,2,0, 2.2,2.6,2, 2.7,3,6, 3.3,3.6,0, 3.8,4,2, 4.4,4.8,3, 5,5.4,0, 5.6,6,2, 6.2,6.4,0, 6.8,7,2, 7.4,7.6,6, 8,8.4,0,
8.6,8.8,2, 9.2,9.6,3, 9.8,10,0, 10.4,10.8,2, 11,11.2,0, 11.6,12,2, 12.2,12.6,6, 12.8,13.2,0, 13.4,13.8,2, 14,14.2,0, 14.6,14.8,3, 15.2,15.6,2, 15.8,16.2,0, 16.4,16.8,2, 17,17.6,0,
17.6,18,2, 18.2,18.6,6, 18.8,19.2,0, 19.4,19.6,2, 20,20.6,0, 20.6,20.8,2, 21.2,21.6,3, 21.8,22.2,0, 22.4,22.6,2, 23,23.6,0, 23.6,24,2, 24.2,24.4,6, 24.8,25.2,0, 25.4,25.3,2, 22.8,23.1,2, 14.2,15.4,0,
.2,2.2,2, 3,2,0, 2.3,4.1,0, 5,3.8,2, 4.3,6.2,3, 7,5.9,0, 6.2,8.1,2, 9.1,7.8,0, 8.3,10.2,0, 11.1,9.9,2, 10.2,12.1,2, 13.2,11.8,6, 12.3,14.2,0, 15.1,13.8,2,
14.2,16.3,2, 17.2,15.9,0, 16.3,18.2,0, 19.3,17.8,2, 18.3,20.2,2, 21.2,19.9,0, 20.3,22.3,0, 23.3,21.8,3, 22.3,24.2,2, 25.2,23.8,0, 1,2.8,0, 2.6,1.5,2, 3.5,5.3,0, 6.5,5.2,2, 5.8,7.6,0];
const NAA_2D_denoised = [
0,0,2, .5,.3,0, 1,.6,3, .2,.9,2, 1.5,1.2,0, 2,1.6,2, 2.5,2.3,0, 3,2.6,6, 3.3,.7,7, 3.6,3.4,2, 4,3.9,0, 4.6,4.5,2, 5,5.2,0, 5.5,5.3,3, 6,6,2, 6.5,6.6,0, 7,7,2, 7.6,7.3,6, 8,8,0, 8.6,8.5,2,
9,9.1,3, 9.6,9.6,0, 10,10.1,2, 10.6,10.5,6, 11,11.2,2, 11.6,11.4,0, 12,12.1,2, 12.6,12.5,3, 13,13.2,0, 13.6,13.6,2, 14,14.5,6, 14.6,14.6,2, 15,15,0, 15.6,15.7,2, 16,16.2,3, 16.6,16.4,0, 17,17.3,2, 17.6,17.7,6, 18,18.3,2, 18.6,18.5,0,
19,19.3,2, 19.6,19.8,3, 20,20.3,0, 20.6,20.6,2, 21,21.5,6, 21.6,21.7,2, 22,22.3,0, 22.6,22.8,2, 23,23.5,3, 23.6,23.8,0, 24,24.4,2, 24.6,25,6, 25,25.4,2, 25.5,25.7,0, 25.8,25.6,2, 26,25.7,0, 24,25.7,2,
21.5,20.8,0, 11.5,12.2,0, 7.8,6.8,2, 2.5,1.2,2, 14.5,13.4,0, 19.5,18.6,2, 6.8,4.3,2, .8,.1,0,
.3,.4,2, .9,.9,0, 1.4,1.3,2, 1.9,1.9,3, 2.4,2.4,0, 2.9,2.9,2, 3.4,3.2,0, 3.9,3.8,6, 4.4,4.3,2, 4.9,4.8,0, 5.4,5.6,2, 5.9,5.8,0, 6.4,6.3,3, 6.9,6.9,2, 7.4,7.4,0,
7.9,7.8,2, 8.4,8.4,6, 8.9,8.8,0, 9.4,9.3,2, 9.9,9.9,0, 10.4,10.4,3, 10.9,10.8,2, 11.4,11.3,0, 11.9,11.9,2, 12.4,12.3,6, 12.9,12.8,0, 13.4,13.4,2, 13.9,13.8,0, 14.4,14.3,3, 14.9,15,2,
15.4,15.4,0, 15.9,15.9,2, 16.4,16.5,6, 16.9,16.8,0, 17.4,17.4,2, 17.9,18,0, 18.4,18.4,3, 18.9,19,2, 19.4,19.5,0, 19.9,20,2, 20.4,20.4,6, 20.9,21,0, 21.4,21.5,2, 21.9,22,0, 22.4,22.5,3,
22.9,23,2, 23.4,23.4,0, 23.9,24,2, 24.4,24.6,6, 24.9,25.1,0, 25.3,25.5,2,
.9,2.2,0, 3.2,1.9,2, 3.8,5.2,2, 6.1,4.9,0, 6.7,8.2,0, 9,7.8,2, 9.7,11.2,2, 12,10.8,0, 12.5,14.1,0, 14.9,13.6,3, 15.5,17.2,2, 17.8,16.6,0, 18.4,20.1,0, 20.7,19.5,2,
21.3,23.1,2, 23.5,22.4,0, 23.4,25.2,0];
const NAA_1D_noisy = [
1,0,0, 1.5,.3,0, 2,.8,0, 2.5,1.2,0, 3,1.8,0, 1.8,1.2,0, 3.5,2.5,0, 4,3,0, 4.5,3.6,0, 5,4.2,0, 5.5,4.8,1, 6,5.2,0, 6.5,5.8,0, 7,6.3,1, 7.5,6.8,0, 8,7.4,1, 8.5,7.8,0, 9,8.4,1, 9.5,8.8,0, 10,9.6,1,
10.5,10,0, 11,10.4,1, 11.5,11,0, 12,11.4,2, 12.5,12,1, 13,12.5,0, 13.5,13,2, 14,13.5,1, 14.5,14,2, 15,14.6,1, 15.5,15,3, 16,15.6,2, 16.5,16,1, 17,16.6,3, 17.5,17.2,2, 18,17.6,4, 18.5,18.2,3, 19,18.7,2, 19.5,19.2,4, 20,19.8,5,
20.5,20.3,3, 21,20.8,6, 21.5,21.4,4, 22,22,6, 22.5,22.4,5, 23,23,6, 23.5,23.6,7, 24,24.2,5, 24.5,24.7,6, 25,25.3,3, 25.3,25.7,2, 24.2,25.5,6, 7.5,5.2,0, 12.5,9.6,0, 3,3.6,0, 9.4,10.4,1, 18,15.8,0, 20.5,21.8,2, 16,17.4,2, 5.5,5.8,0, 13.8,14.8,1,
.6,0,0, 1.2,.5,0, 1.7,.6,0, 2.2,1.2,0, 2.7,1.6,0, 3.2,2.2,0, 3.7,2.8,0, 4.2,3.3,0, 4.7,3.8,0, 5.2,4.4,0, 5.7,5,1, 6.2,5.6,0, 6.7,6,1, 7.2,6.6,0, 7.7,7.1,1,
8.2,7.6,0, 8.7,8.2,1, 9.2,8.6,1, 9.7,9.2,0, 10.2,9.7,1, 10.7,10.2,2, 11.2,10.8,1, 11.7,11.2,0, 12.2,11.8,2, 12.7,12.3,1, 13.2,12.8,2, 13.7,13.2,3, 14.2,13.8,2, 14.7,14.3,1, 15.2,14.8,3,
15.7,15.3,2, 16.2,15.8,4, 16.7,16.3,3, 17.2,16.9,2, 17.7,17.4,4, 18.2,18,3, 18.7,18.4,5, 19.2,19,4, 19.7,19.5,6, 20.2,20,4, 20.7,20.6,6, 21.2,21.1,5, 21.7,21.7,7, 22.2,22.2,6, 22.7,22.7,7,
23.2,23.3,6, 23.7,23.9,7, 24.2,24.6,6, 24.8,25.1,7, 25,25.7,5,
2,2.4,0, 4.3,1.8,0, 4.8,5.5,0, 7,4.9,1, 7.5,8.4,1, 9.8,7.9,0, 10.3,11.4,1, 12.6,10.8,0, 13,14.3,2, 15.3,13.8,1, 15.8,17.2,3, 18.1,16.7,2, 18.6,20.2,4, 20.8,19.6,5,
21.4,23.2,6, 23.5,22.6,6, 23.4,25.3,7];
const NAA_1D_denoised = [
0,0,0, .5,.2,0, 1,.6,0, .3,.8,0, 1.5,.8,0, 2,1.3,0, 2.5,1.7,0, 3,2.2,0, 3.5,2.8,0, 4,3.4,0, 4.2,1.3,0, 4.5,4.2,1, 5,4.7,0, 5.5,5.2,1, 6,5.8,0, 6.5,6.4,1, 7,7,0, 7.5,7.4,1, 8,8.1,0, 8.5,8.8,2,
9,9.3,1, 9.5,9.9,0, 10,10.5,2, 10.5,11,1, 11,11.7,0, 11.5,12.2,2, 12,12.8,1, 12.5,13.4,3, 13,14,2, 13.5,14.5,1, 14,15,3, 14.5,15.6,2, 15,16.3,1, 15.5,16.9,3, 16,17.4,2, 16.5,18,4, 17,18.6,3, 17.5,19.2,2, 18,19.8,5, 18.5,20.4,3,
19,21,6, 19.5,21.5,4, 20,22,6, 20.5,22.6,7, 21,23.2,5, 21.5,23.8,6, 22,24.4,7, 22.5,25,5, 23,25.5,6, 23.3,25.7,3, 19.8,19.8,0, 16.5,19.2,0, 9.5,11.6,1, 6.2,7.8,1, 12,12,0, 21,23.9,8, 20.8,20.1,0, 14.2,13.9,0,
.2,.3,0, .7,.5,0, 1.2,.9,0, 1.7,1.2,0, 2.2,1.6,0, 2.7,2.1,0, 3.2,2.6,0, 3.7,3.1,0, 4.2,3.7,0, 4.7,4.4,1, 5.2,5,0, 5.7,5.5,1, 6.2,6.1,0, 6.7,6.7,1, 7.2,7.2,1,
7.7,7.8,0, 8.2,8.4,1, 8.7,9,2, 9.2,9.6,1, 9.7,10.2,2, 10.2,10.8,1, 10.7,11.4,2, 11.2,11.9,1, 11.7,12.5,2, 12.2,13.1,3, 12.7,13.7,2, 13.2,14.2,3, 13.7,14.8,2, 14.2,15.3,3, 14.7,15.9,4,
15.2,16.6,3, 15.7,17.1,4, 16.2,17.7,3, 16.7,18.3,5, 17.2,18.9,4, 17.7,19.5,5, 18.2,20.1,6, 18.7,20.7,5, 19.2,21.2,7, 19.7,21.8,6, 20.2,22.4,7, 20.7,22.9,6, 21.2,23.5,7, 21.7,24.1,6, 22.2,24.7,7,
22.7,25.3,6, 23,25.7,7,
1.6,2.4,0, 3.9,2,0, 4.2,5.4,0, 6.6,4.8,1, 6.8,8.3,1, 9.2,7.6,0, 9.4,11.2,2, 11.8,10.5,1, 12,14,2, 14.4,13.2,1, 14.6,17.2,3, 17,16.6,2, 17.2,20.3,4, 19.6,19.6,5,
19.9,23.2,6, 22.2,22.6,6, 21.9,25.3,7];

const scatterSets = [
  [sI_2D_noisy, sI_2D_denoised, sI_1D_noisy, sI_1D_denoised],
  [NAAG_2D_noisy, NAAG_2D_denoised, NAAG_1D_noisy, NAAG_1D_denoised],
  [NAA_2D_noisy, NAA_2D_denoised, NAA_1D_noisy, NAA_1D_denoised]];

// ---------- layout ----------
const svg = d3.select("#fig");
const defs = svg.append("defs");
const GRAY = "#7f7f7f";
const HIST_FILL = "#fdd49e";
const KDE_COLOR = "#f5a02a";
const FRAME = "#b4b4b4";
const mainLeft = [129, 406, 699, 977];
const sideLeft = [308, 584, 878, 1155];
const mainTop = [223, 545, 868];
const margTop = [155, 478, 800];
const MAIN_W = 173, MAIN_H = 183, MARG_H = 61, SIDE_W = 59;
const statOffset = [2, -2, -6, -2];
const colour = d3.scaleSequential(d3.interpolateMagma).domain([0, 10]);
const loc = d3.formatLocale({decimal: ".", thousands: ",", grouping: [3], currency: ["", ""], minus: "-"});
const f2 = loc.format(".2f");
const pairs = a => d3.range(0, a.length, 2).map(i => [a[i], a[i + 1]]);
const triples = a => d3.range(0, a.length, 3).map(i => [a[i], a[i + 1], a[i + 2]]);

// header bands
svg.append("rect").attr("x", 67).attr("y", 8).attr("width", 1156).attr("height", 64).attr("fill", GRAY);
svg.append("rect").attr("x", 67).attr("y", 76).attr("width", 1156).attr("height", 50).attr("fill", GRAY);
const netX = [389, 960];
networks.forEach((n, i) => svg.append("text").attr("x", netX[i]).attr("y", 41)
  .attr("text-anchor", "middle").attr("dominant-baseline", "central")
  .attr("font-family", "Lato").attr("font-weight", 300).attr("font-size", 32).attr("fill", "#fff").text(n));
const inX = [238, 527, 817, 1105];
inputs.forEach((n, i) => svg.append("text").attr("x", inX[i]).attr("y", 101)
  .attr("text-anchor", "middle").attr("dominant-baseline", "central")
  .attr("font-family", "Lato").attr("font-weight", 300).attr("font-size", 25).attr("fill", "#fff").text(n));

// row label blocks
const rowBand = [[130, 320], [455, 316], [775, 313]];
metabolites.forEach((m, i) => {
  svg.append("rect").attr("x", 10).attr("y", rowBand[i][0]).attr("width", 57).attr("height", rowBand[i][1]).attr("fill", GRAY);
  svg.append("text").attr("transform", `translate(38,${rowBand[i][0] + rowBand[i][1] / 2}) rotate(90)`)
    .attr("text-anchor", "middle").attr("dominant-baseline", "central")
    .attr("font-family", "Lato").attr("font-size", 25).attr("fill", "#fff").text(m);
});

// row separators
[128.5, 452.5, 773.5].forEach(yv => svg.append("line").attr("x1", 67).attr("x2", 1223)
  .attr("y1", yv).attr("y2", yv).attr("stroke", "#8a8a8a").attr("stroke-width", 2));

function styleAxis(ax) {
  ax.attr("font-size", null).attr("font-family", null);
  ax.select(".domain").remove();
  ax.selectAll(".tick line").attr("stroke", "#555").attr("stroke-width", 0.9);
  ax.selectAll(".tick text").attr("font-family", "DejaVu Sans").attr("font-size", 12.5).attr("fill", "#262626");
}

function drawPanel(r, c) {
  const g = svg.append("g");
  const L = mainLeft[c], T = mainTop[r], MT = margTop[r], SL = sideLeft[c];
  const x = d3.scaleLinear().domain(xDomains[r][c]).range([L, L + MAIN_W]);
  const y = d3.scaleLinear().domain(yDomains[r][c]).range([T + MAIN_H, T]);
  const id = `p${r}${c}`;
  defs.append("clipPath").attr("id", id + "m").append("rect").attr("x", L).attr("y", T).attr("width", MAIN_W).attr("height", MAIN_H);
  defs.append("clipPath").attr("id", id + "t").append("rect").attr("x", L).attr("y", MT).attr("width", MAIN_W).attr("height", MARG_H);
  defs.append("clipPath").attr("id", id + "s").append("rect").attr("x", SL).attr("y", T).attr("width", SIDE_W).attr("height", MAIN_H);

  // top marginal: estimate distribution
  const hTop = d3.scaleLinear().domain([0, 1]).range([MT + MARG_H, MT]);
  const tg = g.append("g").attr("clip-path", `url(#${id}t)`);
  const b0 = topStart[r][c], bw = topWidth[r][c];
  tg.selectAll("rect").data(topHeights[r][c]).join("rect")
    .attr("x", (d, i) => x(b0 + i * bw)).attr("width", (d, i) => x(b0 + (i + 1) * bw) - x(b0 + i * bw) + 0.3)
    .attr("y", d => hTop(d)).attr("height", d => hTop(0) - hTop(d)).attr("fill", HIST_FILL);
  tg.append("path").attr("d", d3.line().x(d => x(d[0])).y(d => hTop(d[1])).curve(d3.curveMonotoneX)(pairs(topKde[r][c])))
    .attr("fill", "none").attr("stroke", KDE_COLOR).attr("stroke-width", 1.2);
  g.append("rect").attr("x", L + 0.5).attr("y", MT + 0.5).attr("width", MAIN_W - 1).attr("height", MARG_H - 1)
    .attr("fill", "none").attr("stroke", FRAME);

  // side marginal: ground-truth distribution
  const wSide = d3.scaleLinear().domain([0, 1]).range([SL, SL + SIDE_W]);
  const sg = g.append("g").attr("clip-path", `url(#${id}s)`);
  const sw = sideWidths[r][c], sb = gtMax[r] / sw.length;
  sg.selectAll("rect").data(sw).join("rect")
    .attr("x", SL).attr("width", d => wSide(d) - SL)
    .attr("y", (d, i) => y((i + 1) * sb)).attr("height", (d, i) => y(i * sb) - y((i + 1) * sb) + 0.3).attr("fill", HIST_FILL);
  const sk = pairs(sideKde[r][c]).sort((a, b) => a[0] - b[0]);
  sg.append("path").attr("d", d3.line().y(d => y(d[0])).x(d => wSide(d[1])).curve(d3.curveMonotoneY)(sk))
    .attr("fill", "none").attr("stroke", KDE_COLOR).attr("stroke-width", 1.2);
  g.append("rect").attr("x", SL + 0.5).attr("y", T + 0.5).attr("width", SIDE_W - 1).attr("height", MAIN_H - 1)
    .attr("fill", "none").attr("stroke", FRAME);

  // main scatter
  const mg = g.append("g").attr("clip-path", `url(#${id}m)`);
  mg.selectAll("circle").data(triples(scatterSets[r][c])).join("circle")
    .attr("cx", d => x(d[0])).attr("cy", d => y(d[1])).attr("r", 2.3)
    .attr("fill", d => colour(d[2]));
  const gm = gtMax[r];
  mg.append("line").attr("x1", x(0)).attr("y1", y(0)).attr("x2", x(gm)).attr("y2", y(gm))
    .attr("stroke", "#111").attr("stroke-width", 1.1).attr("stroke-dasharray", "4,3");
  const a = statA[r][c], q = statQ[r][c];
  mg.append("line").attr("x1", x(q)).attr("y1", y(0)).attr("x2", x(a * gm + q)).attr("y2", y(gm))
    .attr("stroke", "#f2f20a").attr("stroke-width", 1.6);
  mg.append("line").attr("x1", x(gm)).attr("y1", y(0)).attr("x2", x(gm)).attr("y2", y(gm))
    .attr("stroke", "#ff1a1a").attr("stroke-width", 2.2);
  g.append("rect").attr("x", L + 0.5).attr("y", T + 0.5).attr("width", MAIN_W - 1).attr("height", MAIN_H - 1)
    .attr("fill", "none").attr("stroke", FRAME);

  // axes
  const xd = xDomains[r][c];
  const xt = xTicks[r].filter(v => v >= xd[0] && v <= xd[1]);
  const xf = r === 0 ? d3.format(".1f") : d3.format("d");
  const xa = g.append("g").attr("transform", `translate(0,${T + MAIN_H})`)
    .call(d3.axisBottom(x).tickValues(xt).tickFormat(xf).tickSize(3.5).tickPadding(2));
  styleAxis(xa);
  const ya = g.append("g").attr("transform", `translate(${L},0)`)
    .call(d3.axisLeft(y).tickValues(yTicks[r][c]).tickFormat(c === 0 ? (r === 0 ? d3.format(".1f") : d3.format("d")) : "")
      .tickSize(3.5).tickPadding(2));
  styleAxis(ya);
  g.append("text").attr("x", L + MAIN_W / 2).attr("y", T + MAIN_H + 30).attr("text-anchor", "middle")
    .attr("font-family", "DejaVu Sans").attr("font-size", 12.5).attr("fill", "#262626").text("estimate [mM]");
  if (c === 0) {
    g.append("text").attr("transform", `translate(${L - 44},${T + MAIN_H / 2}) rotate(-90)`).attr("text-anchor", "middle")
      .attr("font-family", "DejaVu Sans").attr("font-size", 12.5).attr("fill", "#262626").text("GT [mM]");
  }

  // fit statistics
  const sx = SL + 4, sy = MT + statOffset[c] + 5;
  const st = g.append("g").attr("font-family", "Lato").attr("font-weight", "bold").attr("font-size", 14.5).attr("fill", "#111");
  st.append("text").attr("x", sx).attr("y", sy).text(`a = ${f2(a)}`);
  st.append("text").attr("x", sx).attr("y", sy + 18).text(`q = ${f2(q)}`);
  const rt = st.append("text").attr("x", sx).attr("y", sy + 36);
  rt.append("tspan").attr("font-style", "italic").text("R");
  rt.append("tspan").attr("font-size", 9.5).attr("dy", -5).text("2");
  rt.append("tspan").attr("dy", 5).text(` = ${f2(statR2[r][c])}`);
  const ss = st.append("text").attr("x", sx).attr("y", sy + 54);
  ss.append("tspan").attr("font-style", "italic").text("σ");
  ss.append("tspan").text(` = ${f2(statSigma[r][c])}`);
}

for (let r = 0; r < 3; r++) for (let c = 0; c < 4; c++) drawPanel(r, c);

// column separators
[386.5, 960.5].forEach(xv => svg.append("line").attr("x1", xv).attr("x2", xv).attr("y1", 128).attr("y2", 1088)
  .attr("stroke", "#111").attr("stroke-width", 2));
svg.append("line").attr("x1", 667).attr("x2", 667).attr("y1", 8).attr("y2", 1088)
  .attr("stroke", "#8eaadb").attr("stroke-width", 3);
</script>
</body></html>
